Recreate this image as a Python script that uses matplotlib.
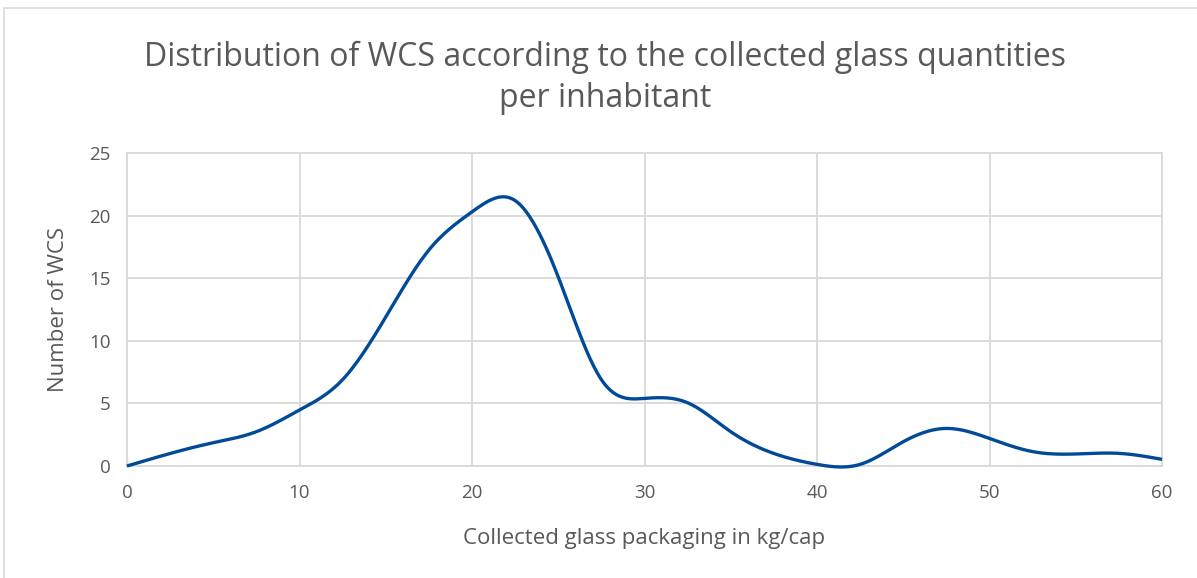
import numpy as np
import matplotlib.pyplot as plt
from matplotlib.patches import Rectangle

# values (every 2.5 kg/cap)
kg_per_cap = [0, 2.5, 5, 7.5, 10, 12.5, 15, 17.5, 20, 22.5, 25, 27.5, 30,
              32.5, 35, 37.5, 40, 42.5, 45, 47.5, 50, 52.5, 55, 57.5, 60]
n_wcs = [0, 1.0, 1.86, 2.74, 4.47, 6.9, 11.9, 17.25, 20.3, 21.2, 15.1, 6.9, 5.4,
         5.05, 2.74, 1.0, 0.13, 0.13, 1.94, 3.0, 2.2, 1.15, 0.96, 1.01, 0.53]
x_ticks = [0, 10, 20, 30, 40, 50, 60]
y_ticks = [0, 5, 10, 15, 20, 25]


def smooth(xs, ys, n=600):
    # natural cubic spline through the points
    xs = np.asarray(xs, float)
    ys = np.asarray(ys, float)
    k = len(xs)
    h = np.diff(xs)
    A = np.zeros((k, k))
    r = np.zeros(k)
    A[0, 0] = A[-1, -1] = 1
    for i in range(1, k - 1):
        A[i, i - 1] = h[i - 1]
        A[i, i] = 2 * (h[i - 1] + h[i])
        A[i, i + 1] = h[i]
        r[i] = 6 * ((ys[i + 1] - ys[i]) / h[i] - (ys[i] - ys[i - 1]) / h[i - 1])
    m = np.linalg.solve(A, r)
    xx = np.linspace(xs[0], xs[-1], n)
    j = np.clip(np.searchsorted(xs, xx) - 1, 0, k - 2)
    t = xx - xs[j]
    hj = h[j]
    a = (ys[j + 1] - ys[j]) / hj - hj * (2 * m[j] + m[j + 1]) / 6
    yy = ys[j] + a * t + m[j] / 2 * t ** 2 + (m[j + 1] - m[j]) / (6 * hj) * t ** 3
    return xx, yy


plt.rcParams['font.family'] = ['Open Sans', 'DejaVu Sans']
grey = '#595959'

fig = plt.figure(figsize=(11.97, 5.78), dpi=100)
ax = fig.add_axes([127 / 1197, 1 - 466 / 578, (1162 - 127) / 1197, (466 - 153) / 578])

# chart area border
fig.patches.append(Rectangle((4 / 1197, -0.1), 1.2, 1 - 8 / 578 + 0.1, transform=fig.transFigure,
                             fill=False, edgecolor='#d9d9d9', linewidth=1.2))

sx, sy = smooth(kg_per_cap, n_wcs)
ax.plot(sx, sy, color='#004A98', linewidth=2.4, solid_capstyle='butt', zorder=3, clip_on=False)

ax.set_xlim(0, 60)
ax.set_ylim(0, 25)
ax.set_xticks(x_ticks)
ax.set_yticks(y_ticks)
ax.grid(True, color='#d9d9d9', linewidth=1.3)
ax.set_axisbelow(True)
for s in ax.spines.values():
    s.set_color('#d9d9d9')
    s.set_linewidth(1.3)
ax.tick_params(length=0, labelsize=13.5, colors=grey)
ax.tick_params(axis='x', pad=13)
ax.tick_params(axis='y', pad=12)

ax.set_xlabel('Collected glass packaging in kg/cap', fontsize=16, color=grey, labelpad=19)
ax.set_ylabel('Number of WCS', fontsize=16, color=grey, labelpad=14)
fig.text(605 / 1197, 1 - 78 / 578,
         'Distribution of WCS according to the collected glass quantities\nper inhabitant',
         ha='center', va='center', fontsize=23, color=grey, linespacing=1.35)

fig.savefig('out.png', dpi=100)
